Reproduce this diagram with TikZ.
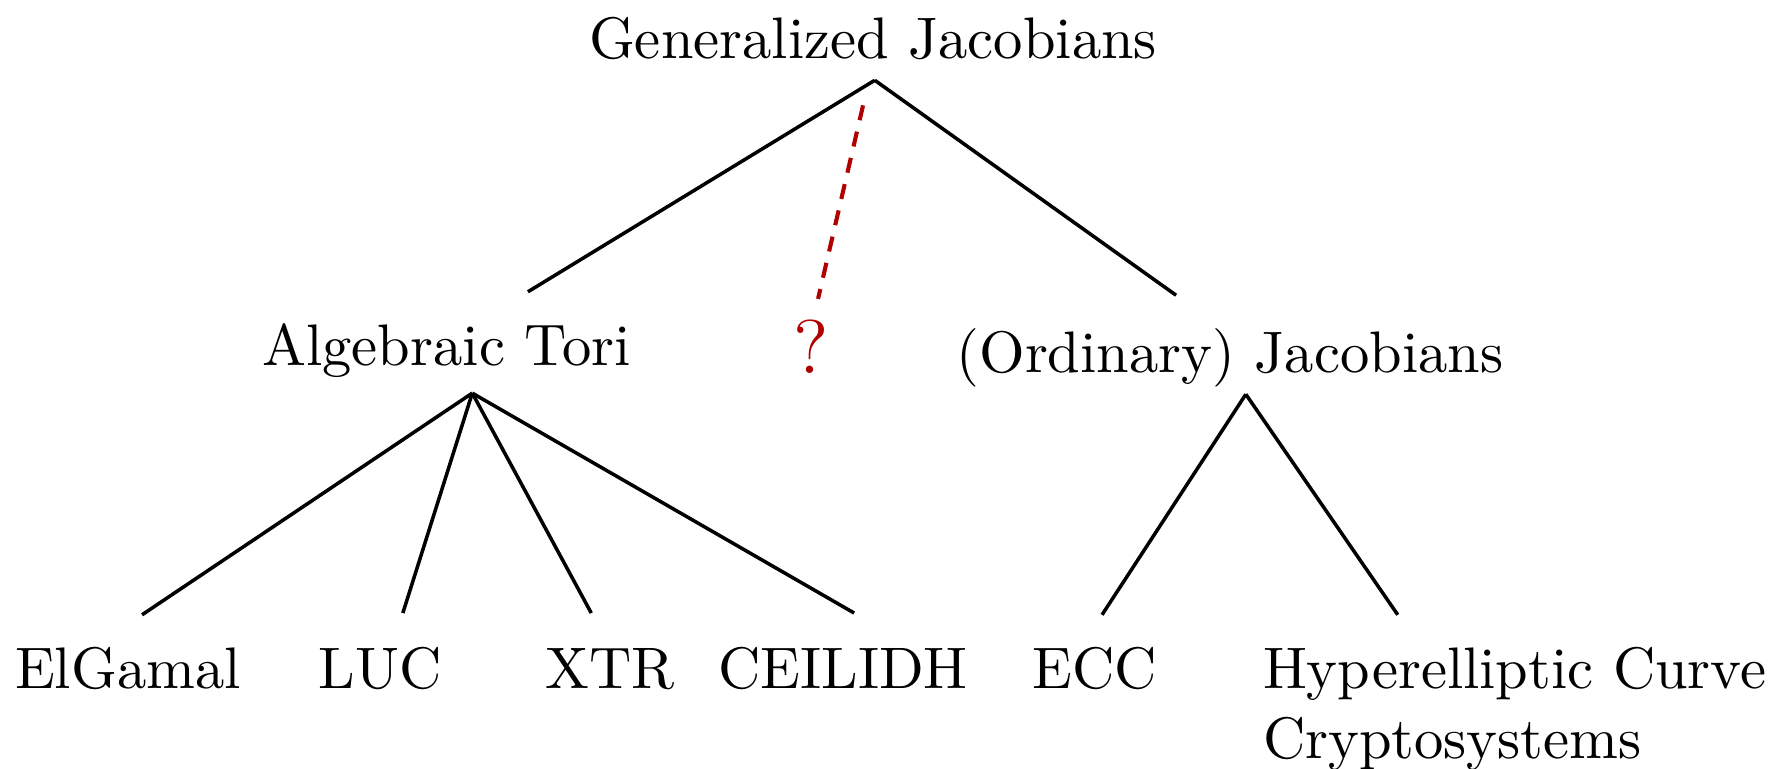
\documentclass[tikz,border=0pt]{standalone}
\usepackage{xcolor}
\usepackage{tikz}
\usetikzlibrary{calc}
\definecolor{qred}{RGB}{176,0,0}

\begin{document}
\begin{tikzpicture}[
		x=0.1707pt, y=-0.1707pt,
		term/.style={inner sep=0pt, outer xsep=0pt, outer ysep=5.5pt, text height=7pt, text depth=2pt, anchor=base},
		branch/.style={line width=0.6pt},
		guess/.style={draw=qred, line width=0.7pt, dash pattern=on 2.6pt off 2pt}
	]
	\useasboundingbox (0,0) rectangle (1781,768);

	% top level
	\node[term] (gj) at (873,58) {Generalized Jacobians};

	% middle level
	\node[inner sep=0pt, outer ysep=3.5pt, anchor=base, font=\fontsize{13}{15}\selectfont, text=qred] (q) at (811,373) {?};
	\node[term] (at) at (446.5,365) {Algebraic Tori};
	\node[term] (oj) at (1230,372) {(Ordinary) Jacobians};

	% bottom level
	\node[term] (eg) at (128,688) {ElGamal};
	\node[term] (luc) at (380,688) {LUC};
	\node[term] (xtr) at (610,688) {XTR};
	\node[term] (cei) at (843,688) {CEILIDH};
	\node[term] (ecc) at (1095,688) {ECC};
	\node[term, anchor=base west, text width=90pt, align=left] (hcc) at (1263,688) {Hyperelliptic Curve\\Cryptosystems};

	\coordinate (gjFork) at ([xshift=0.3pt,yshift=3.7pt]gj.south);
	\coordinate (atFork) at ([xshift=4.4pt,yshift=2.7pt]at.south);
	\coordinate (ojFork) at ([xshift=2.7pt,yshift=3.7pt]oj.south);

	\draw[branch] (gjFork) -- ([xshift=13.9pt]at.north);
	\draw[branch] (gjFork) -- ([xshift=-9.2pt,yshift=0.6pt]oj.north);
	\draw[guess, shorten <=4.4pt] ([xshift=-1pt]gjFork) -- ([xshift=1.2pt]q.north);

	\draw[branch] (atFork) -- ([xshift=2.4pt]eg.north);
	\draw[branch] (atFork) -- ([xshift=3.9pt,yshift=0.3pt]luc.north);
	\draw[branch] (atFork) -- ([xshift=-3.2pt,yshift=0.3pt]xtr.north);
	\draw[branch] (atFork) -- ([xshift=1.9pt,yshift=0.3pt]cei.north);

	\draw[branch] (ojFork) -- ([xshift=1.2pt]ecc.north);
	\draw[branch] (ojFork) -- ([xshift=23pt]hcc.north west);
\end{tikzpicture}
\end{document}
